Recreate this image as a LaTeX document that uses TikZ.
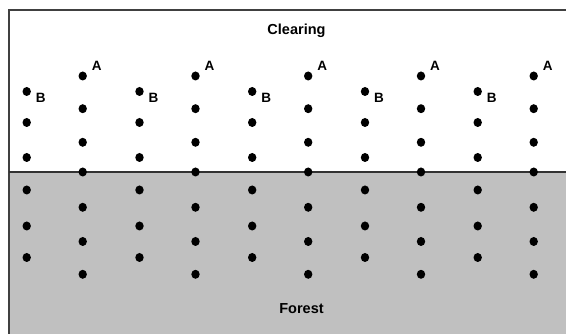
\documentclass[tikz,border=0pt]{standalone}
\usetikzlibrary{shapes.geometric}
\usepackage{fontspec}
\setmainfont{Liberation Sans}
\begin{document}
\begin{tikzpicture}[x=1pt,y=1pt,
  dot/.style={ellipse,fill=black,inner sep=0pt,minimum width=8.4pt,minimum height=9pt},
  lbl/.style={font=\fontsize{13.5}{13.5}\selectfont\bfseries,inner sep=0pt},
  title/.style={font=\fontsize{14.5}{14.5}\selectfont\bfseries,inner sep=0pt}]
\useasboundingbox (0,0) rectangle (566,334);
\clip (0,0) rectangle (566,334);
% forest fill
\fill[fill={rgb,255:red,192;green,192;blue,192}] (9,-10) rectangle (580,162);
% frame
\draw[line width=1.4pt,draw={rgb,255:red,64;green,64;blue,64}] (9,-10) -- (9,324) -- (580,324);
% divider
\draw[line width=2pt,draw={rgb,255:red,50;green,50;blue,50}] (9,162) -- (580,162);
% A columns
\foreach \k/\x in {1/82.7,2/195.5,3/308.2,4/421,5/533.7}{
  \foreach \r/\y in {1/76,2/108.7,3/142.3,4/172,5/207.3,6/241.5,7/274.3}{
    \node[dot] (a\k-\r) at (\x,334-\y) {};
  }
  \node[lbl] (la\k) at ([xshift=14pt,yshift=10pt]a\k-1.center) {A};
}
% B columns
\foreach \k/\x in {1/26.7,2/139.5,3/252.2,4/365,5/477.7}{
  \foreach \r/\y in {1/91.5,2/122.5,3/157.5,4/190,5/226,6/257.5}{
    \node[dot] (b\k-\r) at (\x,334-\y) {};
  }
  \node[lbl] (lb\k) at ([xshift=14pt,yshift=-6.5pt]b\k-1.center) {B};
}
\node[title] (clearing) at (296.5,334-31) {Clearing};
\node[title] (forest) at (301.5,334-309) {Forest};
\end{tikzpicture}
\end{document}
